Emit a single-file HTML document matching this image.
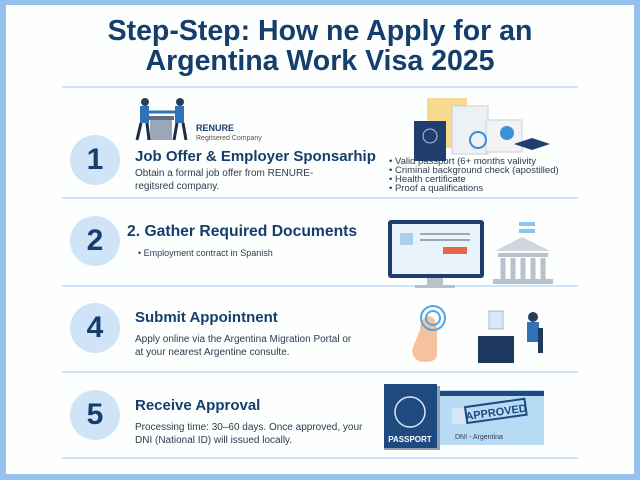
<!DOCTYPE html>
<html><head><meta charset="utf-8"><style>
body{margin:0;width:640px;height:480px;background:#93c3ea;position:relative;overflow:hidden;font-family:"Liberation Sans",sans-serif}
#card{position:absolute;left:6px;top:5px;width:628px;height:469px;background:#fdfefe}
.t{position:absolute;color:#163e6c;font-weight:bold;white-space:nowrap}
.p{position:absolute;color:#2e3c4e;font-size:10px;line-height:13px;white-space:nowrap}
.hr{position:absolute;left:62px;width:516px;height:2px;background:#cfe5f6}
.c{position:absolute;left:70px;width:50px;height:50px;border-radius:50%;background:#cfe5f7;color:#163e6c;font-weight:bold;font-size:30px;text-align:center;line-height:50px}
</style></head><body>
<div id="card"></div>
<div class="t" style="left:0;width:640px;text-align:center;top:16px;font-size:28.5px;line-height:30px">Step-Step: How ne Apply for an<br>Argentina Work Visa 2025</div>
<div class="hr" style="top:86px"></div>
<div class="hr" style="top:197px"></div>
<div class="hr" style="top:285px"></div>
<div class="hr" style="top:371px"></div>
<div class="hr" style="top:457px"></div>

<div class="c" style="top:135px">1</div>
<div class="c" style="top:216px">2</div>
<div class="c" style="top:303px">4</div>
<div class="c" style="top:390px">5</div>

<div class="t" style="left:135px;top:148px;font-size:15px">Job Offer &amp; Employer Sponsarhip</div>
<div class="p" style="left:135px;top:167px">Obtain a formal job offer from RENURE-<br>regitsred company.</div>
<div class="t" style="left:196px;top:123px;font-size:9px">RENURE</div>
<div class="p" style="left:196px;top:132px;font-size:7px;color:#555">Regitsered Company</div>
<div class="p" style="left:389px;top:157px;line-height:9px;font-size:9.5px">• Valid passport (6+ months valivity<br>• Criminal background check (apostilled)<br>• Health certificate<br>• Proof a qualifications</div>

<div class="t" style="left:127px;top:223px;font-size:15.7px">2. Gather Required Documents</div>
<div class="p" style="left:138px;top:247px;font-size:9px">• Employment contract in Spanish</div>

<div class="t" style="left:135px;top:309px;font-size:15px">Submit Appointnent</div>
<div class="p" style="left:135px;top:333px">Apply online via the Argentina Migration Portal or<br>at your nearest Argentine consulte.</div>

<div class="t" style="left:135px;top:397px;font-size:15px">Receive Approval</div>
<div class="p" style="left:135px;top:421px">Processing time: 30–60 days. Once approved, your<br>DNI (National ID) will issued locally.</div>

<svg width="640" height="480" style="position:absolute;left:0;top:0">
<rect x="150" y="118" width="22" height="22" fill="#9aa7b7"/><rect x="148" y="116" width="26" height="4" fill="#5d6f85"/>
<circle cx="145" cy="102" r="4" fill="#2a3d57"/><rect x="140" y="106" width="9" height="17" fill="#2f72b5"/><path d="M141 123 L137 140 M147 123 L149 140" stroke="#1b2d46" stroke-width="3"/>
<circle cx="180" cy="102" r="4" fill="#2a3d57"/><rect x="175" y="106" width="9" height="17" fill="#2f72b5"/><path d="M177 123 L174 140 M183 123 L186 140" stroke="#1b2d46" stroke-width="3"/>
<path d="M149 112 L175 112" stroke="#2f72b5" stroke-width="3"/>
<rect x="427" y="98" width="40" height="50" fill="#f7d98f"/>
<rect x="452" y="106" width="36" height="48" fill="#eef1f4" stroke="#c9d0d8"/>
<rect x="486" y="120" width="36" height="32" fill="#f1f3f5" stroke="#c9d0d8"/>
<circle cx="507" cy="133" r="7" fill="#3d8fd6"/>
<rect x="414" y="121" width="32" height="40" fill="#1f3e6e"/><circle cx="430" cy="136" r="7" fill="none" stroke="#b9c8dc"/>
<circle cx="478" cy="140" r="8" fill="none" stroke="#3b8ad0" stroke-width="2"/>
<path d="M514 144 L532 138 L550 144 L532 150Z" fill="#1f3e6e"/>
<rect x="388" y="220" width="96" height="58" rx="3" fill="#1f3e6e"/>
<rect x="392" y="224" width="88" height="50" fill="#eaf3fb"/>
<rect x="400" y="233" width="13" height="12" fill="#a9cff0"/>
<rect x="420" y="233" width="50" height="2" fill="#9aa7b7"/><rect x="420" y="239" width="50" height="2" fill="#9aa7b7"/>
<rect x="443" y="247" width="24" height="7" fill="#e26a4a"/>
<rect x="427" y="278" width="16" height="8" fill="#b9c2cc"/><rect x="415" y="285" width="40" height="3" fill="#b9c2cc"/>
<rect x="519" y="222" width="16" height="11" fill="#8ec5ef"/><rect x="519" y="226" width="16" height="3" fill="#fff"/>
<path d="M495 251 L522 237 L550 251Z" fill="#cfd6de"/>
<rect x="498" y="253" width="50" height="4" fill="#b9c2cc"/>
<path d="M503 258v22M513 258v22M523 258v22M533 258v22M543 258v22" stroke="#b9c2cc" stroke-width="5"/>
<rect x="493" y="279" width="60" height="5" fill="#b9c2cc"/>
<path d="M420 330 q0-12 8-14 q8 0 9 14 l0 24 q0 8-12 8 q-12 0-13-12 z" fill="#f5c29d"/>
<circle cx="433" cy="318" r="12" fill="none" stroke="#4ea6e6" stroke-width="2"/><circle cx="433" cy="318" r="7" fill="none" stroke="#4ea6e6" stroke-width="2"/>
<rect x="489" y="311" width="14" height="18" fill="#dbe9f7" stroke="#9cb8d6"/>
<rect x="478" y="336" width="36" height="27" fill="#1e3a5f"/>
<circle cx="533" cy="317" r="5" fill="#2a3d57"/><rect x="527" y="322" width="12" height="20" fill="#2f72b5"/>
<rect x="538" y="328" width="5" height="25" fill="#1e3a5f"/>
<rect x="384" y="386" width="56" height="64" fill="#8fa3b8"/>
<rect x="384" y="384" width="53" height="64" fill="#1f4a80"/>
<circle cx="410" cy="412" r="15" fill="none" stroke="#dbe6f2" stroke-width="1.5"/>
<text x="410" y="442" font-size="8" fill="#fff" text-anchor="middle" font-family="Liberation Sans" font-weight="bold">PASSPORT</text>
<rect x="440" y="390" width="104" height="55" rx="2" fill="#b7daf5"/>
<rect x="440" y="391" width="104" height="5" fill="#1f4a80"/>
<rect x="452" y="408" width="14" height="16" fill="#d9e7f3"/>
<g transform="rotate(-8 495 412)"><rect x="466" y="403" width="60" height="16" fill="none" stroke="#1f4a80" stroke-width="2"/><text x="496" y="416" font-size="11" fill="#1f4a80" text-anchor="middle" font-family="Liberation Sans" font-weight="bold">APPROVED</text></g>
<text x="455" y="439" font-size="7" fill="#2e3c4e" font-family="Liberation Sans">DNI - Argentina</text>
</svg>
</body></html>
